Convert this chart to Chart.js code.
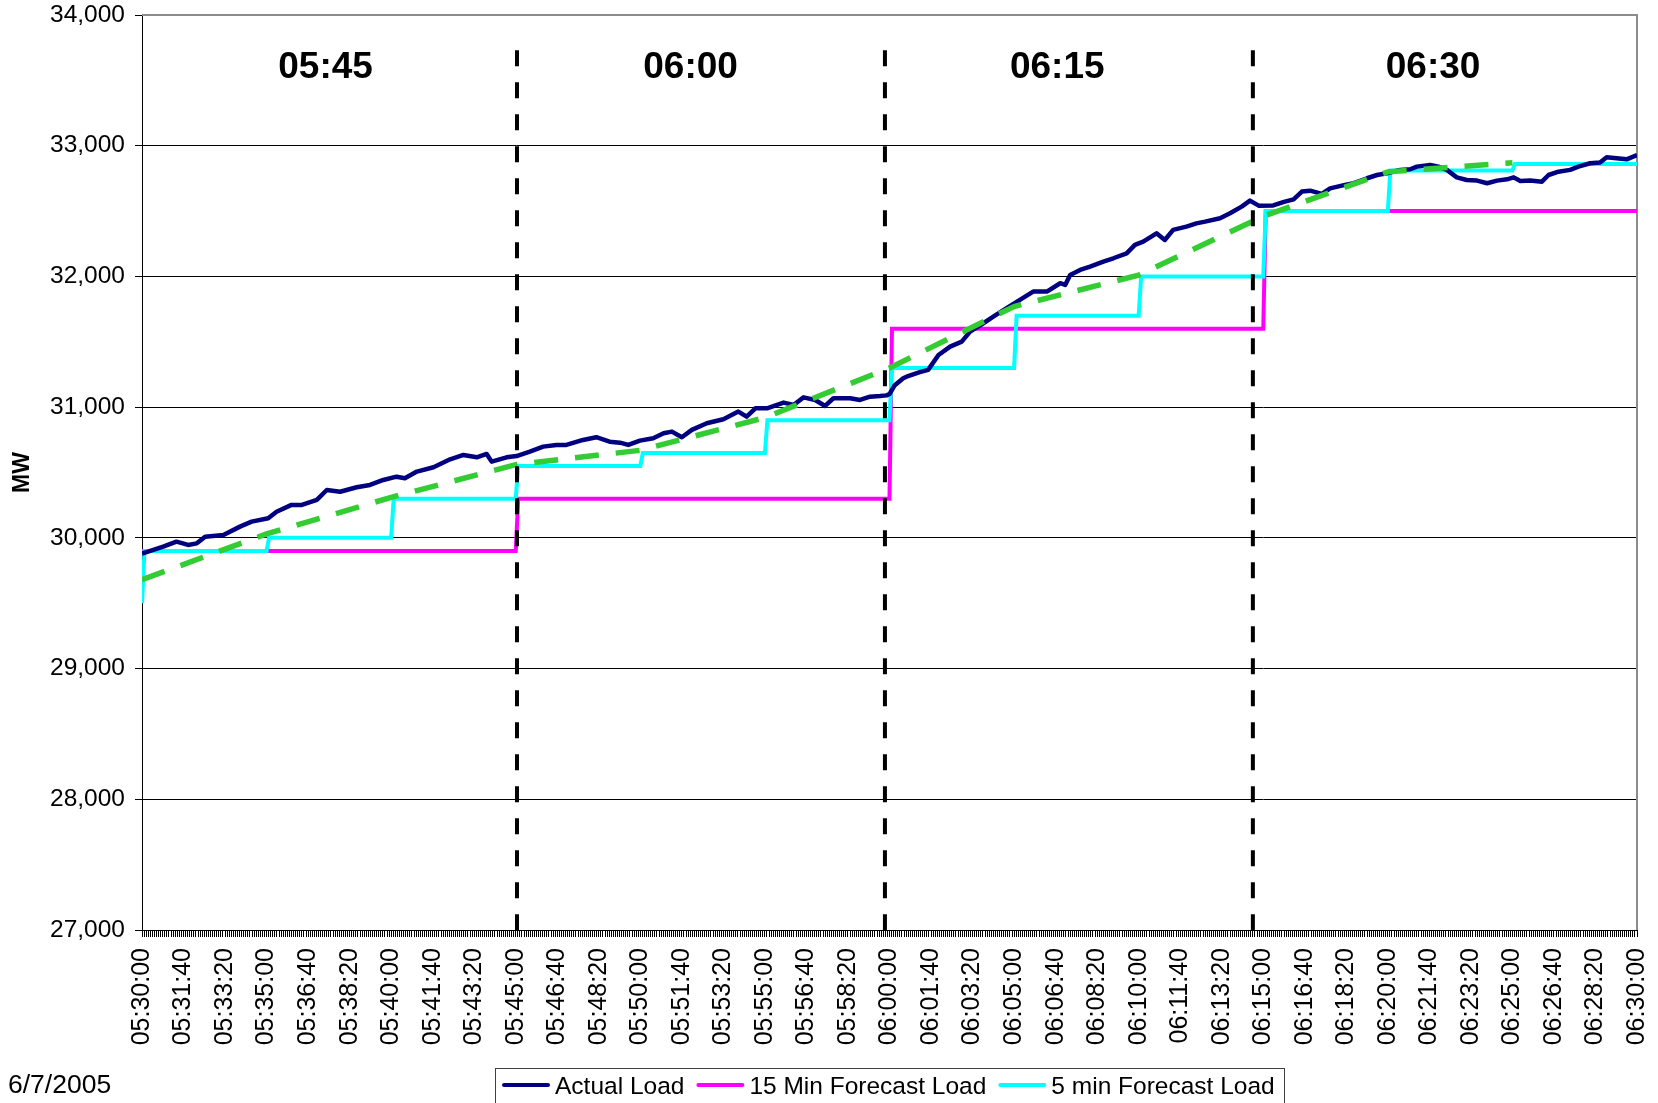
<!DOCTYPE html>
<html>
<head>
<meta charset="utf-8">
<title>Load vs Forecast</title>
<script src="https://cdn.jsdelivr.net/npm/chart.js@4.4.1/dist/chart.umd.min.js"></script>
<style>
  html, body { margin: 0; padding: 0; background: #fff; overflow: hidden; }
  #wrap { position: relative; width: 1658px; height: 1103px; }
</style>
</head>
<body>
<div id="wrap"><canvas id="c" width="1658" height="1103"></canvas></div>
<script>
const FONT = '"Liberation Sans", Arial, Helvetica, sans-serif';

// Time axis runs in seconds after 05:30:00
const xTickLabels = [
  '05:30:00','05:31:40','05:33:20','05:35:00','05:36:40','05:38:20','05:40:00','05:41:40','05:43:20',
  '05:45:00','05:46:40','05:48:20','05:50:00','05:51:40','05:53:20','05:55:00','05:56:40','05:58:20',
  '06:00:00','06:01:40','06:03:20','06:05:00','06:06:40','06:08:20','06:10:00','06:11:40','06:13:20',
  '06:15:00','06:16:40','06:18:20','06:20:00','06:21:40','06:23:20','06:25:00','06:26:40','06:28:20',
  '06:30:00'
];
const yTicks = [27000, 28000, 29000, 30000, 31000, 32000, 33000, 34000];

const seriesNames = ['Actual Load', '15 Min Forecast Load', '5 min Forecast Load'];

// Actual load (MW)
const actualSec = [0,51,83,111,132,152,196,236,264,304,324,360,385,421,445,477,517,549,581,613,633,662,702,742,774,806,830,842,878,902,934,966,998,1022,1062,1094,1126,1151,1171,1199,1231,1256,1276,1300,1324,1360,1400,1436,1456,1477,1505,1545,1569,1593,1621,1645,1665,1705,1729,1753,1777,1793,1800,1812,1833,1841,1873,1893,1918,1946,1974,1994,2026,2050,2082,2114,2146,2179,2211,2223,2235,2259,2283,2315,2339,2371,2391,2411,2443,2463,2483,2515,2539,2560,2596,2620,2648,2668,2690,2724,2750,2773,2793,2813,2841,2861,2897,2918,2950,2974,2998,3030,3054,3070,3102,3122,3142,3166,3190,3215,3239,3263,3287,3303,3319,3343,3371,3387,3411,3439,3459,3487,3511,3527,3551,3575,3600];
const actualMW = [29880,29933,29971,29946,29958,30009,30022,30086,30124,30150,30200,30252,30252,30290,30366,30353,30387,30405,30443,30468,30456,30507,30540,30601,30634,30616,30642,30583,30616,30626,30660,30698,30711,30711,30749,30770,30736,30728,30711,30744,30762,30800,30813,30770,30826,30877,30907,30966,30927,30991,30991,31035,31017,31075,31055,31009,31068,31068,31055,31080,31085,31090,31100,31165,31221,31233,31268,31285,31399,31463,31501,31578,31642,31692,31757,31820,31884,31884,31948,31935,32011,32050,32075,32113,32139,32177,32241,32266,32330,32279,32356,32381,32406,32419,32445,32483,32534,32580,32540,32543,32570,32590,32649,32656,32631,32674,32700,32713,32751,32776,32789,32815,32820,32840,32853,32840,32815,32758,32738,32733,32713,32733,32743,32758,32730,32733,32725,32776,32801,32815,32840,32866,32871,32912,32904,32896,32929];

// 15 minute forecast (step changes)
const fc15Sec = [0, 900, 906, 1800, 1806, 2700, 2706, 3600];
const fc15MW  = [29900, 29900, 30300, 30300, 31600, 31600, 32500, 32500];

// 5 minute forecast (step changes)
const fc5Sec = [0, 6, 300, 306, 600, 606, 900, 906, 1200, 1206, 1500, 1506, 1800, 1806, 2100, 2106, 2400, 2406, 2700, 2706, 3000, 3006, 3300, 3306, 3600];
const fc5MW  = [29500, 29900, 29900, 30000, 30000, 30300, 30300, 30550, 30550, 30650, 30650, 30900, 30900, 31300, 31300, 31700, 31700, 32000, 32000, 32500, 32500, 32810, 32810, 32860, 32860];

// Ramp between five-minute targets
const trendSec = [0, 300, 600, 900, 1200, 1500, 1800, 2100, 2400, 2700, 3000, 3300];
const trendMW  = [29680, 30030, 30310, 30560, 30670, 30920, 31300, 31770, 32010, 32460, 32800, 32870];

// Hand-placed quarter-hour divider lines and their captions
const dividerSec = [903, 1789, 2675];
const dividerTopMW = 33730;
const quarterLabels = ['05:45', '06:00', '06:15', '06:30'];
const quarterLabelSec = [442, 1321, 2204, 3109];
const quarterLabelMW = 33595;

const dateText = '6/7/2005';
const axisTitle = 'MW';

const COLORS = { actual: '#000080', fc15: '#FF00FF', fc5: '#00FFFF', trend: '#33CC33' };

const pts = (xs, ys) => xs.map((x, i) => ({ x: x, y: ys[i] }));

const datasets = [];
dividerSec.forEach(s => datasets.push({
  label: 'divider', data: [{ x: s, y: dividerTopMW }, { x: s, y: 27000 }],
  borderColor: '#000', borderWidth: 4, borderDash: [16, 16], pointRadius: 0, order: 0, clip: false
}));
datasets.push({ label: 'ramp', data: pts(trendSec, trendMW), borderColor: COLORS.trend,
  borderWidth: 5.5, borderDash: [24, 17], pointRadius: 0, order: 1 });
datasets.push({ label: seriesNames[0], data: pts(actualSec, actualMW), borderColor: COLORS.actual,
  borderWidth: 4.5, borderJoinStyle: 'round', pointRadius: 0, order: 2 });
datasets.push({ label: seriesNames[2], data: pts(fc5Sec, fc5MW), borderColor: COLORS.fc5,
  borderWidth: 4, pointRadius: 0, order: 3 });
datasets.push({ label: seriesNames[1], data: pts(fc15Sec, fc15MW), borderColor: COLORS.fc15,
  borderWidth: 4, pointRadius: 0, order: 4 });

// Gray plot-area frame on top and right
const framePlugin = {
  id: 'frame',
  beforeDatasetsDraw(chart) {
    const { ctx, chartArea: a } = chart;
    ctx.save();
    ctx.strokeStyle = '#8c8c8c';
    ctx.lineWidth = 2;
    ctx.beginPath();
    ctx.moveTo(a.left, a.top);
    ctx.lineTo(a.right, a.top);
    ctx.lineTo(a.right, a.bottom);
    ctx.stroke();
    ctx.restore();
  }
};

// Interval captions, axis title, date stamp and boxed legend
const textPlugin = {
  id: 'texts',
  afterDraw(chart) {
    const { ctx, scales } = chart;
    ctx.save();
    ctx.fillStyle = '#000';

    ctx.font = 'bold 37px ' + FONT;
    ctx.textAlign = 'center';
    ctx.textBaseline = 'middle';
    const ly = scales.y.getPixelForValue(quarterLabelMW);
    quarterLabels.forEach((t, i) => ctx.fillText(t, scales.x.getPixelForValue(quarterLabelSec[i]), ly));

    ctx.save();
    ctx.translate(23, (chart.chartArea.top + chart.chartArea.bottom) / 2);
    ctx.rotate(-Math.PI / 2);
    ctx.font = 'bold 23px ' + FONT;
    ctx.fillText(axisTitle, 0, 0);
    ctx.restore();

    ctx.font = '26.5px ' + FONT;
    ctx.textAlign = 'left';
    ctx.textBaseline = 'alphabetic';
    ctx.fillText(dateText, 8, 1093);

    // legend
    const items = [
      { name: seriesNames[0], color: COLORS.actual },
      { name: seriesNames[1], color: COLORS.fc15 },
      { name: seriesNames[2], color: COLORS.fc5 }
    ];
    ctx.strokeStyle = '#404040';
    ctx.lineWidth = 1;
    ctx.strokeRect(495.5, 1068.5, 789, 60);
    ctx.font = '24.5px ' + FONT;
    let x = 502;
    items.forEach(it => {
      ctx.strokeStyle = it.color;
      ctx.lineWidth = 4;
      ctx.lineCap = 'round';
      ctx.beginPath();
      ctx.moveTo(x + 2, 1085);
      ctx.lineTo(x + 46, 1085);
      ctx.stroke();
      ctx.fillStyle = '#000';
      ctx.fillText(it.name, x + 53, 1094);
      x = x + 53 + ctx.measureText(it.name).width + 12;
    });
    ctx.restore();
  }
};

new Chart(document.getElementById('c'), {
  type: 'line',
  data: { datasets: datasets },
  options: {
    responsive: false,
    animation: false,
    devicePixelRatio: 1,
    events: [],
    layout: { padding: { top: 15, right: 21, left: 0, bottom: 0 } },
    elements: { line: { tension: 0 } },
    plugins: { legend: { display: false }, tooltip: { enabled: false } },
    scales: {
      x: {
        type: 'linear', min: 0, max: 3600,
        afterFit(s) { s.height = 173; s.paddingLeft = 0; s.paddingRight = 0; },
        afterBuildTicks(s) {
          const t = [];
          for (let v = 0; v <= 3600; v += 5) t.push({ value: v });
          s.ticks = t;
        },
        ticks: {
          autoSkip: false, maxRotation: 90, minRotation: 90, padding: 11, color: '#000',
          font: { family: FONT, size: 25 },
          callback: v => (v % 100 === 0 ? xTickLabels[v / 100] : '')
        },
        grid: { drawOnChartArea: false, drawTicks: true, tickLength: 7, color: '#000', lineWidth: 1 },
        border: { display: true, color: '#000', width: 1 }
      },
      y: {
        min: 27000, max: 34000,
        afterFit(s) { s.width = 142; s.paddingTop = 0; s.paddingBottom = 0; },
        afterBuildTicks(s) { s.ticks = yTicks.map(v => ({ value: v })); },
        ticks: {
          padding: 10, color: '#000', font: { family: FONT, size: 24.5 },
          callback: v => v.toLocaleString('en-US')
        },
        grid: {
          color: c => (c.tick && c.tick.value === 34000 ? 'rgba(0,0,0,0)' : '#000'),
          tickColor: '#000', tickLength: 7, lineWidth: 1
        },
        border: { display: true, color: '#000', width: 1 }
      }
    }
  },
  plugins: [framePlugin, textPlugin]
});
</script>
</body>
</html>
